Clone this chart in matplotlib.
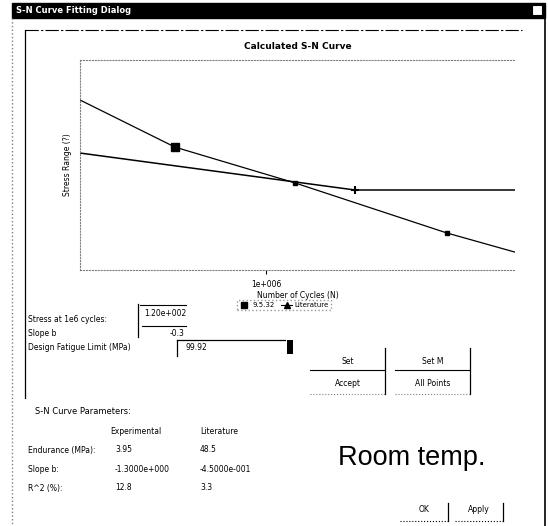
import matplotlib
matplotlib.use('Agg')
import matplotlib.pyplot as plt
from matplotlib.lines import Line2D
from matplotlib.patches import Rectangle

# S-N curve data (log cycles vs log stress)
fit_cycles = [1e3, 3.38e4, 2.88e6, 8.05e8, 1e10]
fit_stress = [416, 148, 67.5, 22.5, 14.8]
lit_cycles = [1e3, 2.66e7, 1e10]
lit_stress = [130, 57.8, 57.8]
test_cycles = [3.38e4, 2.88e6, 8.05e8]
test_stress = [148, 67.5, 22.5]
knee_cycles = [2.66e7]
knee_stress = [57.8]

legend_labels = ['9.5.32', 'Literature']
param_headers = ['Experimental', 'Literature']
param_rows = ['Endurance (MPa):', 'Slope b:', 'R^2 (%):']
param_exp = ['3.95', '-1.3000e+000', '12.8']
param_lit = ['48.5', '-4.5000e-001', '3.3']

W, H = 548, 526
fig = plt.figure(figsize=(W / 100, H / 100), dpi=100)

# overlay in pixel coordinates for the dialog chrome
bg = fig.add_axes([0, 0, 1, 1])
bg.set_xlim(0, W)
bg.set_ylim(H, 0)
bg.axis('off')

def px(x, y, s, **kw):
	kw.setdefault('fontsize', 5.5)
	kw.setdefault('va', 'center')
	bg.text(x, y, s, **kw)

# title bar and window border
bg.add_patch(Rectangle((12, 3), 533, 15, color='black'))
px(16, 10.5, 'S-N Curve Fitting Dialog', color='white', fontweight='bold', fontsize=6)
bg.add_patch(Rectangle((532, 5), 10, 10, facecolor='white', edgecolor='black', lw=0.8))
bg.plot([12, 12], [18, 526], color='gray', lw=1, ls=':')
bg.plot([545, 545], [18, 526], color='black', lw=1.2)
# inner panel
bg.plot([25, 25], [30, 398], color='black', lw=0.9)
bg.plot([25, 522], [30, 30], color='black', lw=0.8, ls=(0, (12, 2, 2, 2)))

# stress / slope entry
px(28, 320, 'Stress at 1e6 cycles:')
px(28, 334, 'Slope b')
bg.plot([138, 138], [304, 337], color='black', lw=0.9)
bg.plot([140, 186], [305, 305], color='black', lw=0.8)
bg.plot([142, 186], [326, 326], color='black', lw=0.8)
px(144, 314, '1.20e+002')
px(185, 334, '-0.3', ha='right')

# design combobox
px(28, 348, 'Design Fatigue Limit (MPa)')
bg.plot([177, 177], [340, 356], color='black', lw=0.9)
bg.plot([177, 285], [340, 340], color='black', lw=0.9)
px(186, 347, '99.92')
bg.add_patch(Rectangle((287, 340), 6, 14, facecolor='black'))

# two buttons
for x0, top, bot in [(310, 'Set', 'Accept'), (395, 'Set M', 'All Points')]:
	bg.plot([x0, x0 + 75], [370, 370], color='black', lw=0.8)
	bg.plot([x0 + 75, x0 + 75], [348, 394], color='black', lw=0.9)
	bg.plot([x0, x0 + 75], [394, 394], color='gray', lw=0.8, ls=':')
	px(x0 + 38, 362, top, ha='center')
	px(x0 + 38, 383, bot, ha='center')

# parameter table
px(35, 412, 'S-N Curve Parameters:', fontsize=6)
px(110, 431, param_headers[0])
px(200, 431, param_headers[1])
for i, name in enumerate(param_rows):
	y = 450 + i * 19
	px(28, y, name)
	px(115, y, param_exp[i])
	px(200, y, param_lit[i])

bg.text(338, 458, 'Room temp.', fontsize=19.5, family=['Liberation Sans', 'DejaVu Sans'], va='center')

# OK / Apply buttons
for x0, lab in [(400, 'OK'), (455, 'Apply')]:
	bg.plot([x0, x0 + 48], [521, 521], color='black', lw=0.8, ls=':')
	bg.plot([x0 + 48, x0 + 48], [503, 521], color='black', lw=0.9)
	px(x0 + 24, 510, lab, ha='center')

# chart
ax = fig.add_axes([80 / W, 1 - 270 / H, 435 / W, 210 / H])
ax.set_xscale('log')
ax.set_yscale('log')
ax.set_xlim(1e3, 1e10)
ax.set_ylim(10, 1000)
ax.plot(fit_cycles, fit_stress, color='black', lw=0.9)
ax.plot(lit_cycles, lit_stress, color='black', lw=1.1)
ax.plot(test_cycles[:1], test_stress[:1], 's', color='black', ms=6)
ax.plot(test_cycles[1:], test_stress[1:], 's', color='black', ms=2.5)
ax.plot(knee_cycles, knee_stress, '+', color='black', ms=6, mew=1.5)
for side in ['left', 'top', 'bottom']:
	ax.spines[side].set_linestyle(':')
	ax.spines[side].set_color('gray')
ax.spines['right'].set_visible(False)
ax.set_xticks([1e6])
ax.set_xticklabels(['1e+006'], fontsize=5.5)
ax.set_yticks([])
ax.minorticks_off()
ax.tick_params(axis='x', length=3, pad=4)
ax.set_title('Calculated S-N Curve', fontsize=6.5, pad=8, fontweight='bold')
ax.set_ylabel('Stress Range (?)', fontsize=5.5, labelpad=6)
ax.set_xlabel('Number of Cycles (N)', fontsize=5.5, labelpad=2)

handles = [Line2D([], [], marker='s', color='black', ls='', ms=5),
	Line2D([], [], marker='^', color='black', ls='-', ms=4, lw=0.8)]
leg = fig.legend(handles, legend_labels, ncol=2, fontsize=5,
	bbox_to_anchor=(284 / W, 1 - 305 / H), loc='center',
	frameon=True, fancybox=False, handlelength=1.5, borderpad=0.3,
	columnspacing=1.0, handletextpad=0.4)
leg.get_frame().set_edgecolor('gray')
leg.get_frame().set_linestyle(':')

fig.savefig('out.png', dpi=100)
